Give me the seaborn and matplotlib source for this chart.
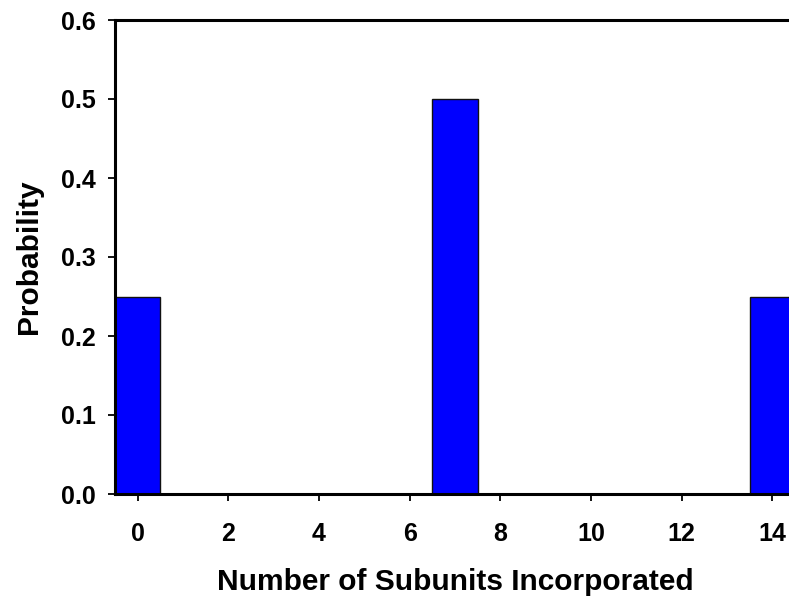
import matplotlib
matplotlib.use("Agg")
import matplotlib.pyplot as plt
import seaborn as sns
import pandas as pd
from matplotlib.ticker import FormatStrFormatter

subunits = [0, 7, 14]
probability = [0.25, 0.5, 0.25]
x_ticks = [0, 2, 4, 6, 8, 10, 12, 14]
y_ticks = [0.0, 0.1, 0.2, 0.3, 0.4, 0.5, 0.6]

sns.set_theme(style="ticks")
plt.rcParams["font.family"] = ["Liberation Sans", "DejaVu Sans"]
plt.rcParams["text.color"] = "black"
plt.rcParams["axes.labelcolor"] = "black"
plt.rcParams["xtick.color"] = "black"
plt.rcParams["ytick.color"] = "black"

df = pd.DataFrame({"n": subunits, "p": probability})

fig = plt.figure(figsize=(7.89, 5.99), dpi=100)
ax = fig.add_axes([115/789, (599-494)/599, 680/789, 474/599])

sns.barplot(data=df, x="n", y="p", order=list(range(15)), width=1.0,
            color="#0000ff", saturation=1, edgecolor="#111111", linewidth=1.0, ax=ax)

ax.set_xlim(-0.5, 14.5)
ax.set_ylim(0, 0.6)
ax.set_xticks(x_ticks)
ax.set_xticklabels([str(t) for t in x_ticks])
ax.set_yticks(y_ticks)
ax.yaxis.set_major_formatter(FormatStrFormatter("%.1f"))

for s in ax.spines.values():
    s.set_linewidth(2.2)
    s.set_color("black")

ax.tick_params(axis="both", direction="out", length=5, width=1.3, color="black",
               labelcolor="black", labelsize=18)
ax.tick_params(axis="x", pad=15)
ax.tick_params(axis="y", pad=9)
for lab in ax.get_xticklabels() + ax.get_yticklabels():
    lab.set_fontweight("bold")

ax.set_xlabel("Number of Subunits Incorporated", fontsize=21.5, fontweight="bold",
              labelpad=16, color="black")
ax.set_ylabel("Probability", fontsize=21.5, fontweight="bold", labelpad=13, color="black")

fig.savefig("out.png", dpi=100)
